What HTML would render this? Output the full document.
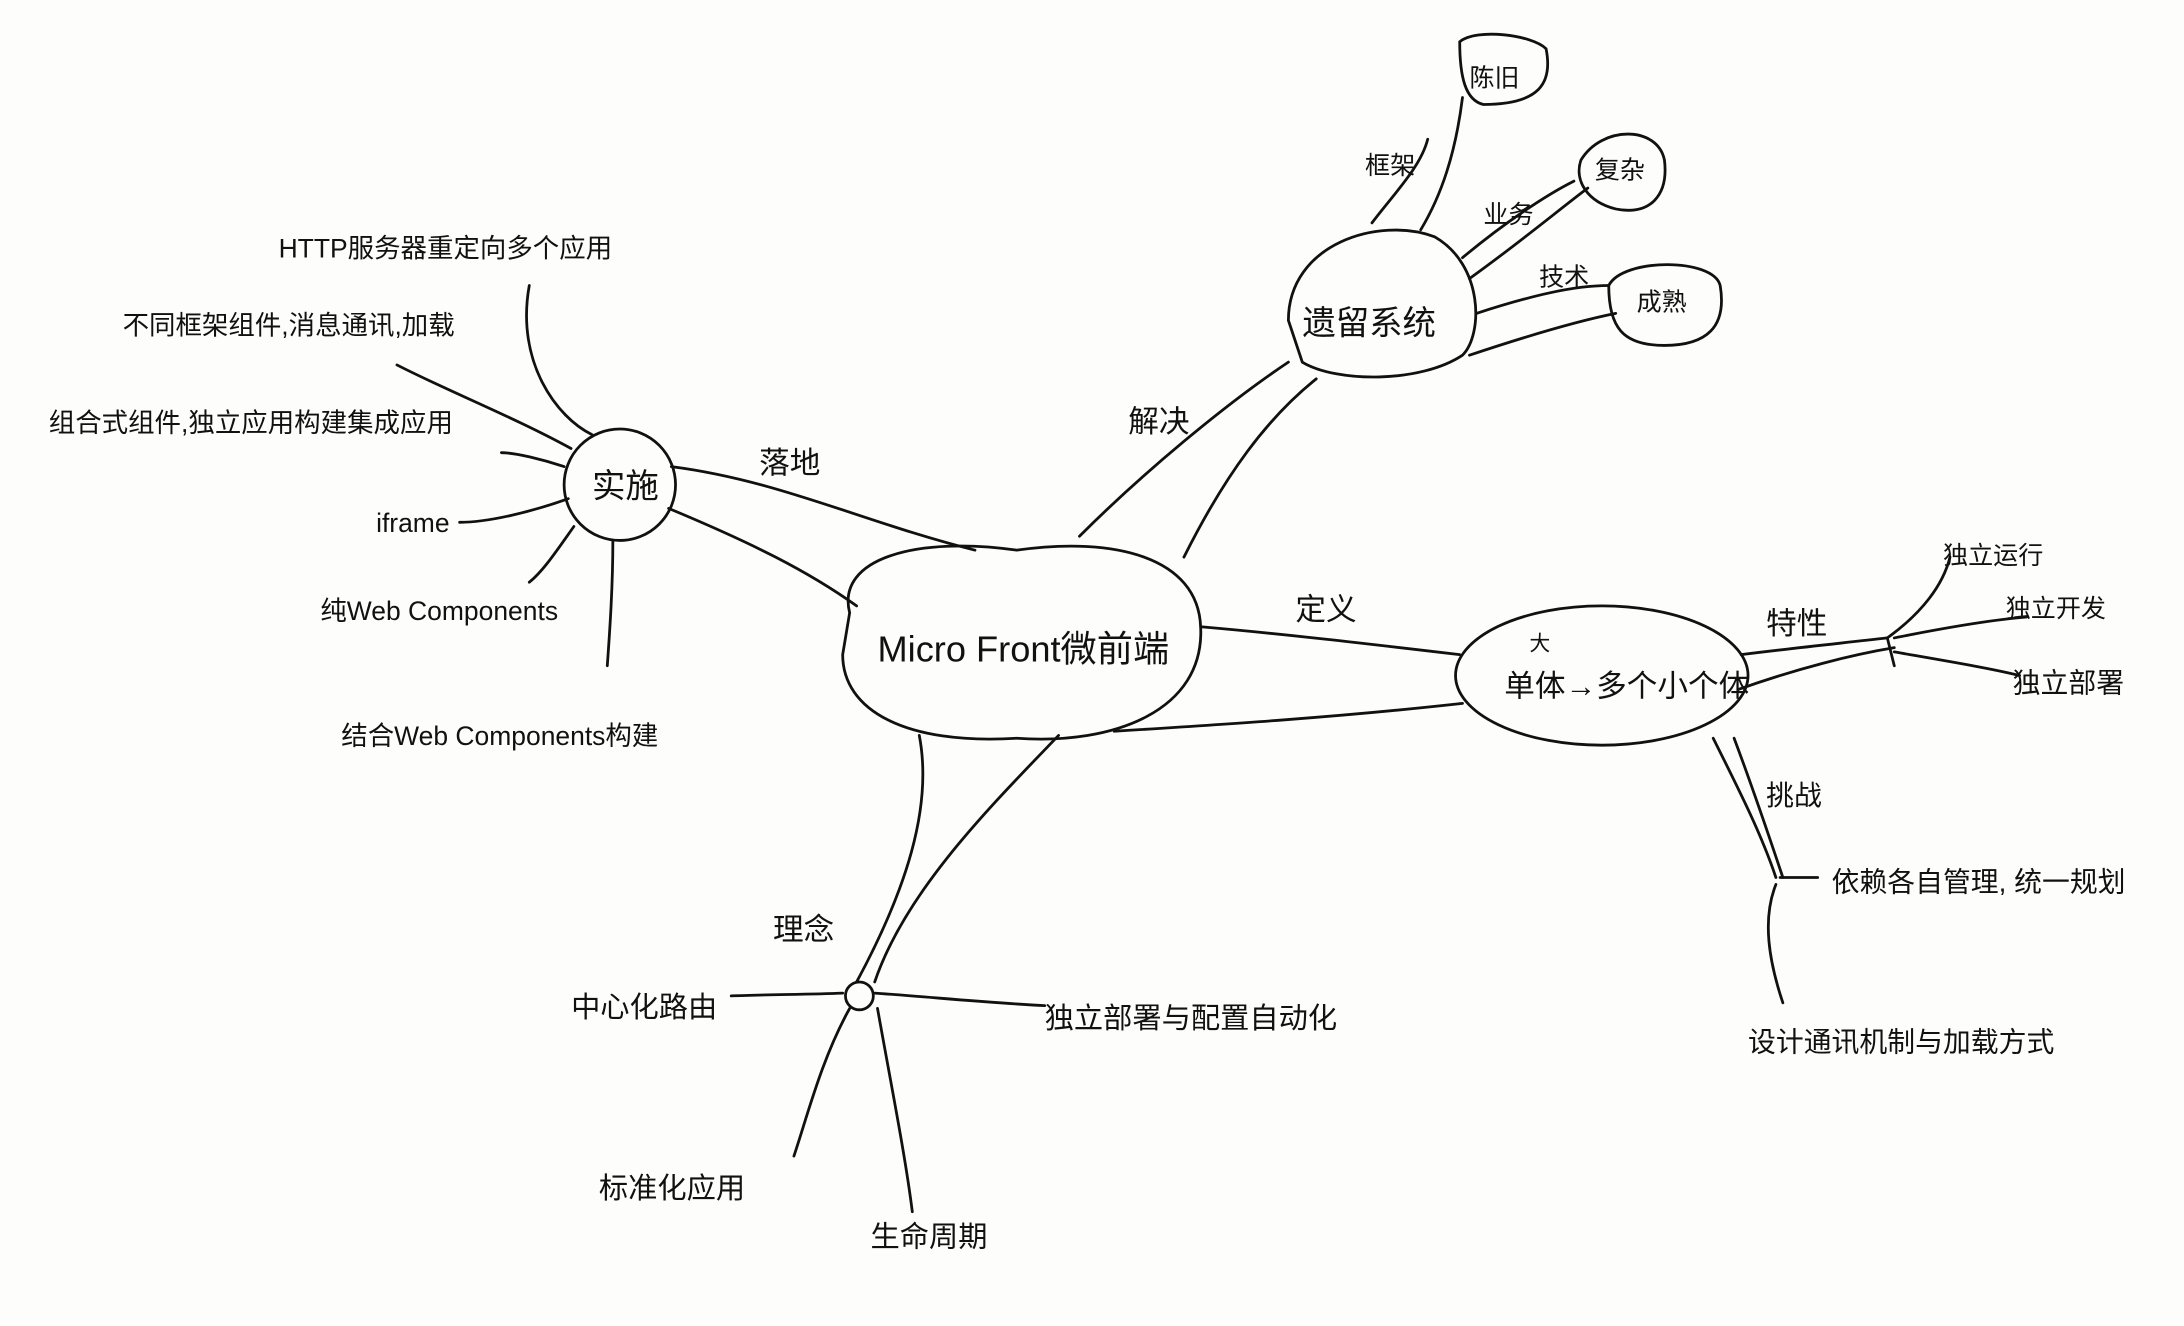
<!DOCTYPE html>
<html><head><meta charset="utf-8"><style>
html,body{margin:0;padding:0;background:#fff;width:2184px;height:1326px;overflow:hidden}
svg{display:block}
text{font-family:"Liberation Sans","Noto Sans CJK SC",sans-serif;fill:#111}
</style></head><body>
<svg width="2184" height="1326" viewBox="0 0 1568 952" preserveAspectRatio="none">
<rect width="1568" height="952" fill="#fdfdfc"/>
<g fill="none" stroke="#111" stroke-width="2" stroke-linecap="round">
<!-- central -->
<path d="M610,440 C600,400 660,385 730,395 C800,385 860,400 862,450 C865,510 800,535 730,530 C650,535 605,510 605,470 Z"/>
<!-- 实施 -->
<circle cx="445" cy="348" r="40"/>
<path d="M482,335 C560,345 620,375 700,395"/>
<path d="M480,365 C540,390 580,410 615,435"/>
<!-- leaves of 实施 -->
<path d="M425,312 C400,300 370,260 380,205"/>
<path d="M410,322 C370,300 320,280 285,262"/>
<path d="M405,335 C390,330 370,325 360,325"/>
<path d="M408,358 C380,368 350,375 330,375"/>
<path d="M412,378 C400,395 390,410 380,418"/>
<path d="M440,388 C440,420 438,450 436,478"/>
<!-- 遗留系统 -->
<path d="M925,230 C925,175 990,155 1030,170 C1065,190 1065,240 1050,255 C1020,275 960,275 935,260 Z"/>
<path d="M775,385 C820,340 880,290 925,260"/>
<path d="M850,400 C880,340 910,300 945,272"/>
<path d="M985,160 C1000,140 1020,120 1025,100"/>
<path d="M1020,165 C1035,140 1045,110 1050,70"/>
<path d="M1050,185 C1080,160 1110,140 1130,130"/>
<path d="M1055,200 C1090,175 1120,150 1140,135"/>
<path d="M1060,225 C1100,212 1130,205 1155,205"/>
<path d="M1055,255 C1100,240 1135,230 1160,225"/>
<path d="M1048,30 C1060,20 1100,25 1110,35 C1115,60 1105,75 1065,75 C1052,72 1048,55 1048,30 Z"/>
<path d="M1135,115 C1150,90 1190,90 1195,115 C1198,140 1185,155 1160,150 C1140,145 1130,130 1135,115 Z"/>
<path d="M1155,205 C1165,185 1230,185 1235,205 C1240,235 1225,248 1195,248 C1165,248 1155,235 1155,205 Z"/>
<!-- 大单体 ellipse -->
<ellipse cx="1150" cy="485" rx="105" ry="50"/>
<path d="M862,450 C920,455 980,462 1048,470"/>
<path d="M800,525 C880,520 960,515 1050,505"/>
<path d="M1250,470 C1290,465 1320,462 1355,458"/>
<path d="M1248,495 C1290,480 1330,470 1360,465"/>
<path d="M1355,458 L1360,478"/>
<path d="M1355,458 C1380,440 1395,420 1400,400"/>
<path d="M1360,458 C1400,450 1430,445 1455,443"/>
<path d="M1360,468 C1400,475 1430,480 1450,485"/>
<path d="M1230,530 C1250,570 1265,600 1275,630"/>
<path d="M1245,530 C1260,570 1270,600 1280,630"/>
<path d="M1278,630 C1290,630 1300,630 1305,630"/>
<path d="M1275,635 C1265,660 1270,690 1280,720"/>
<!-- 理念 -->
<path d="M660,528 C670,580 650,640 615,705"/>
<path d="M760,528 C710,580 650,640 628,705"/>
<circle cx="617" cy="715" r="10"/>
<path d="M605,713 C580,714 550,714 525,715"/>
<path d="M628,713 C670,716 710,720 750,722"/>
<path d="M610,724 C590,760 580,800 570,830"/>
<path d="M630,724 C640,780 650,830 655,870"/>
</g>
<g font-size="22">
<text x="630" y="475" font-size="26">Micro Front微前端</text>
<text x="425" y="357" font-size="24">实施</text>
<text x="545" y="340">落地</text>
<text x="200" y="185" font-size="19">HTTP服务器重定向多个应用</text>
<text x="88" y="240" font-size="19">不同框架组件,消息通讯,加载</text>
<text x="35" y="310" font-size="19">组合式组件,独立应用构建集成应用</text>
<text x="270" y="382" font-size="19">iframe</text>
<text x="230" y="445" font-size="19">纯Web Components</text>
<text x="245" y="535" font-size="19">结合Web Components构建</text>
<text x="935" y="240" font-size="24">遗留系统</text>
<text x="810" y="310">解决</text>
<text x="980" y="125" font-size="18">框架</text>
<text x="1055" y="62" font-size="18">陈旧</text>
<text x="1065" y="160" font-size="18">业务</text>
<text x="1145" y="128" font-size="18">复杂</text>
<text x="1105" y="205" font-size="18">技术</text>
<text x="1175" y="223" font-size="18">成熟</text>
<text x="930" y="445">定义</text>
<text x="1080" y="500" font-size="22">单体→多个小个体</text>
<text x="1098" y="467" font-size="15">大</text>
<text x="1268" y="455">特性</text>
<text x="1395" y="405" font-size="18">独立运行</text>
<text x="1440" y="443" font-size="18">独立开发</text>
<text x="1445" y="497" font-size="20">独立部署</text>
<text x="1268" y="578" font-size="20">挑战</text>
<text x="1315" y="640" font-size="20">依赖各自管理, 统一规划</text>
<text x="1255" y="755" font-size="20">设计通讯机制与加载方式</text>
<text x="555" y="675">理念</text>
<text x="410" y="730" font-size="21">中心化路由</text>
<text x="750" y="738" font-size="21">独立部署与配置自动化</text>
<text x="430" y="860" font-size="21">标准化应用</text>
<text x="625" y="895" font-size="21">生命周期</text>
</g>
</svg>
</body></html>
